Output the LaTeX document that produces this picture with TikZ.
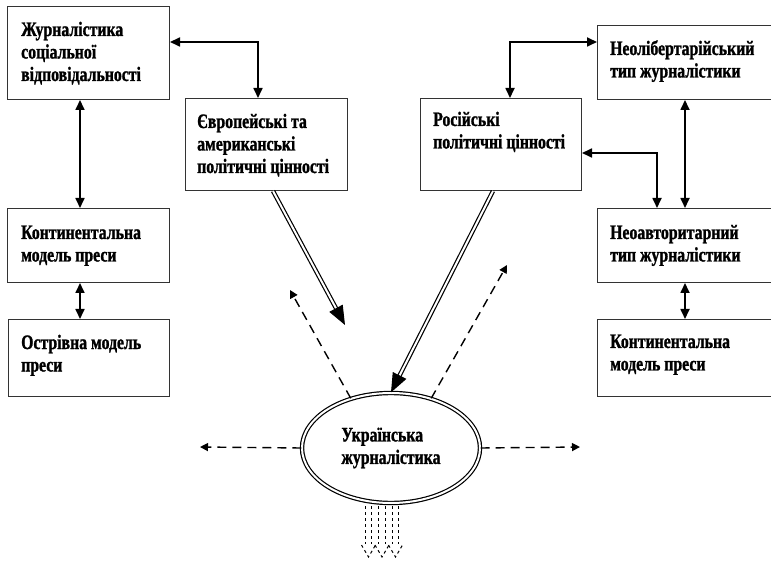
\documentclass[tikz,border=0pt]{standalone}
\usepackage{fontspec}
\setmainfont{Liberation Serif}[FakeStretch=0.77, BoldFeatures={FakeBold=1.2}]
\usetikzlibrary{arrows.meta,calc,shapes.geometric}

% left-aligned block of lines whose baseline is the first line's baseline
\newcommand\boxlines[1]{\parbox[t]{170pt}{\raggedright #1}}

\begin{document}
\begin{tikzpicture}[x=1pt,y=-1pt,
  box/.style={draw=black!80, line width=1pt, anchor=north west, inner sep=0pt},
  txtfont/.style={font=\fontsize{20.5}{22.5}\selectfont\bfseries},
  lbl/.style={anchor=base west, inner sep=0pt, txtfont},
  link/.style={line width=1.7pt,
    {Triangle[length=10pt,width=9pt]}-{Triangle[length=10pt,width=9pt]}},
  dbl/.style={double=white, double distance=2pt, line width=1.2pt},
  bighead/.style={line width=1pt, -{Triangle[length=19pt,width=15pt]}},
  dasharrow/.style={line width=1.4pt, dash pattern=on 9pt off 6pt,
    -{Triangle[length=8pt,width=8pt]}},
  stripe/.style={line width=1pt, dash pattern=on 3pt off 3pt},
]
\useasboundingbox (0,0) rectangle (771,561);
\fill[white] (0,0) rectangle (771,561);
\clip (0,0) rectangle (771,561);

% ---- boxes ----
\node[box, minimum width=162pt, minimum height=93pt] (A) at (7,6) {};
\node[lbl] (At) at ($(A.north west)+(14,30)$)
  {\boxlines{Журналістика\\соціальної\\відповідальності}};

\node[box, minimum width=162pt, minimum height=92pt] (B) at (185,98) {};
\node[lbl] (Bt) at ($(B.north west)+(12,30)$)
  {\boxlines{Європейські та\\американські\\політичні цінності}};

\node[box, minimum width=161pt, minimum height=92pt] (C) at (420,98) {};
\node[lbl] (Ct) at ($(C.north west)+(13,28)$)
  {\boxlines{Російські\\політичні цінності}};

\node[box, minimum width=180pt, minimum height=74pt] (D) at (597,25) {};
\node[lbl] (Dt) at ($(D.north west)+(13,30)$)
  {\boxlines{Неолібертарійський\\тип журналістики}};

\node[box, minimum width=162pt, minimum height=74pt] (E) at (7,208) {};
\node[lbl] (Et) at ($(E.north west)+(14,31)$)
  {\boxlines{Континентальна\\модель преси}};

\node[box, minimum width=161pt, minimum height=77pt] (F) at (8,319) {};
\node[lbl] (Ft) at ($(F.north west)+(13,30)$)
  {\boxlines{Острівна модель\\преси}};

\node[box, minimum width=180pt, minimum height=74pt] (G) at (597,208) {};
\node[lbl] (Gt) at ($(G.north west)+(13,31)$)
  {\boxlines{Неоавторитарний\\тип журналістики}};

\node[box, minimum width=180pt, minimum height=77pt] (H) at (597,319) {};
\node[lbl] (Ht) at ($(H.north west)+(13,29)$)
  {\boxlines{Континентальна\\модель преси}};

% ---- central ellipse ----
\node[ellipse, draw, dbl, minimum width=178pt, minimum height=110pt,
      inner sep=0pt, align=left, txtfont]
  (U) at (391,448) {Українська\\журналістика};

% ---- guide coordinates for the connectors ----
\coordinate (rowTop) at (0,42);
\coordinate (rowMid) at (0,153);
\coordinate (colL) at (80,0);
\coordinate (colR) at (685,0);
\coordinate (colG) at (657,0);

% ---- solid two-way links ----
\draw[link] (A.east |- rowTop) -| ($(B.north west)+(73,0)$);
\draw[link] (A.south -| colL) -- (E.north -| colL);
\draw[link] (E.south -| colL) -- (F.north -| colL);
\draw[link] ($(C.north west)+(90,0)$) |- (D.west |- rowTop);
\draw[link] (D.south -| colR) -- (G.north -| colR);
\draw[link] (G.north -| colG) |- (C.east |- rowMid);
\draw[link] (G.south -| colR) -- (H.north -| colR);

% ---- double-line influence arrows ----
\coordinate (bS) at ($(B.south west)+(88,0)$);
\coordinate (bT) at (345,325);
\draw[dbl, shorten >=17pt] (bS) -- (bT);
\draw[bighead] ($(bT)!18pt!(bS)$) -- (bT);

\coordinate (cS) at ($(C.south west)+(73,0)$);
\draw[dbl, shorten >=17pt] (cS) -- (U.north);
\draw[bighead] ($(U.north)!18pt!(cS)$) -- (U.north);

% ---- dashed outgoing arrows ----
\coordinate (ulT) at (290,290);
\coordinate (urT) at (507,265);
\coordinate (lT) at (200,447);
\coordinate (rT) at (580,447);
\draw[dasharrow] (U.129) -- (ulT);
\draw[dasharrow] (U.51) -- (urT);
\draw[dasharrow] (U.west) -- (lT);
\draw[dasharrow] (U.east) -- (rT);

% ---- dotted striped arrows below the ellipse ----
\coordinate (bs) at (382,506);
\foreach \c in {-13.5,0,13.5} {
  \draw[stripe] ($(bs)+(\c-3.4,0)$) -- ++(0,38);
  \draw[stripe] ($(bs)+(\c+3.4,0)$) -- ++(0,38);
  \draw[stripe] ($(bs)+(\c-7,39)$) -- ($(bs)+(\c,51)$) -- ($(bs)+(\c+7,39)$);
}
\end{tikzpicture}
\end{document}
